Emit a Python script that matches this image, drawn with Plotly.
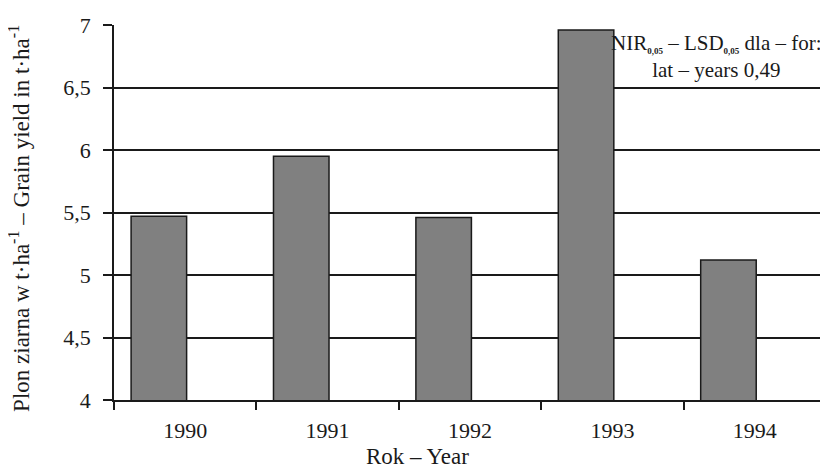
import plotly.graph_objects as go

years = ["1990", "1991", "1992", "1993", "1994"]
yields = [5.47, 5.95, 5.46, 6.96, 5.12]
y_ticks = [4, 4.5, 5, 5.5, 6, 6.5, 7]
y_tick_labels = ["4", "4,5", "5", "5,5", "6", "6,5", "7"]

FONT = "Liberation Serif"

fig = go.Figure()
fig.add_trace(go.Bar(
    x=years, y=yields, width=0.39, offset=-0.38,
    marker=dict(color="#808080", line=dict(color="#1a1a1a", width=1.5)),
))

# the page body has an 8px margin, so the figure is sized/offset for it
fig.update_layout(
    width=820, height=464,
    margin=dict(l=106, r=2, t=17, b=72, autoexpand=False),
    paper_bgcolor="white", plot_bgcolor="white",
    font=dict(family=FONT, size=22, color="#1a1a1a"),
    showlegend=False,
)
fig.update_xaxes(
    type="category", tickson="boundaries", ticks="outside", ticklen=8,
    tickcolor="#1a1a1a", tickwidth=1.5, automargin=False,
    showline=True, linecolor="#1a1a1a", linewidth=1.5,
    showgrid=False, ticklabelstandoff=10,
)
fig.update_yaxes(
    range=[4, 7], tickvals=y_ticks, ticktext=y_tick_labels, automargin=False,
    ticks="outside", ticklen=9, tickcolor="#1a1a1a", tickwidth=1.5,
    showline=True, linecolor="#1a1a1a", linewidth=1.5, mirror=True,
    showgrid=True, gridcolor="#1a1a1a", gridwidth=1.5,
    ticklabelstandoff=8, zeroline=False,
)

fig.add_annotation(
    xref="paper", yref="paper", x=(417 - 114) / 712, y=-0.152,
    xanchor="center", yanchor="middle", showarrow=False,
    text="Rok – Year", font=dict(family=FONT, size=23),
)
fig.add_annotation(
    xref="paper", yref="paper", x=(20 - 114) / 712, y=0.483,
    xanchor="center", yanchor="middle", showarrow=False, textangle=-90,
    text="Plon ziarna w t·ha<sup>-1</sup> – Grain yield in t·ha<sup>-1</sup>",
    font=dict(family=FONT, size=23),
)
SUB = '<sub><span style="font-size:9px"><b>0,05</b></span></sub>'
fig.add_annotation(
    xref="paper", yref="paper", x=(716 - 114) / 712, y=0.99,
    xanchor="center", yanchor="top", showarrow=False, align="center",
    text=f"NIR{SUB} – LSD{SUB} dla – for:<br>lat – years 0,49",
    font=dict(family=FONT, size=21),
)

fig.write_html("out.html")
